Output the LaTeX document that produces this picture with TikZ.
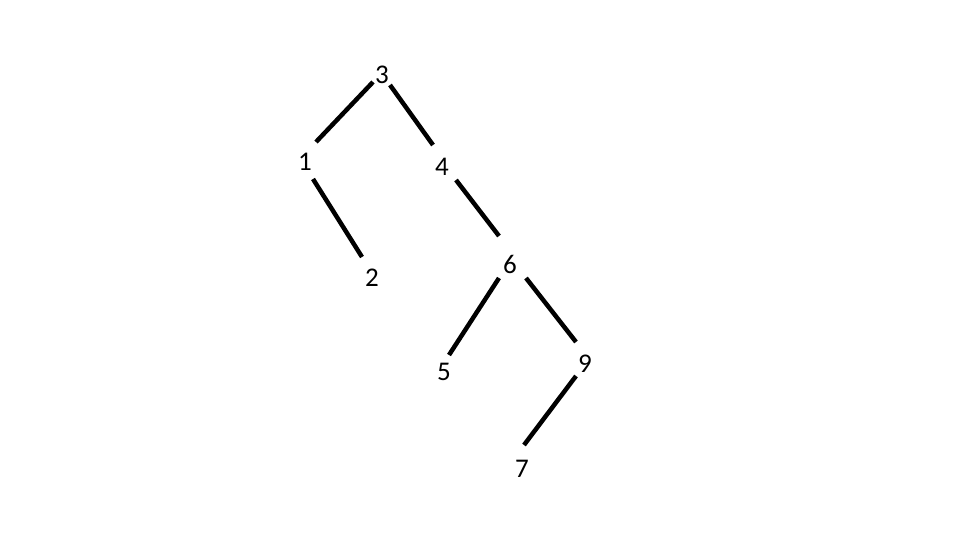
\documentclass[tikz,border=0pt]{standalone}
\usepackage{fontspec}
\setmainfont{Carlito}
\begin{document}
\begin{tikzpicture}[x=1pt,y=-1pt,
  num/.style={inner sep=0pt,font=\fontsize{27}{32}\selectfont},
  edge/.style={line width=4.5pt,black}]
\useasboundingbox (0,0) rectangle (960,540);
\fill[white] (0,0) rectangle (960,540);
\node[num] (n3) at (382,75) {3};
\node[num] (n1) at (305,162) {1};
\node[num] (n4) at (442,167) {4};
\node[num] (n2) at (372,278) {2};
\node[num] (n6) at (510,264) {6};
\node[num] (n5) at (444,372) {5};
\node[num] (n9) at (585,364) {9};
\node[num] (n7) at (522,469) {7};
\draw[edge] ([shift={(-9,7)}]n3.center) -- ([shift={(11,-20)}]n1.center);
\draw[edge] ([shift={(8,10)}]n3.center) -- ([shift={(-9,-22)}]n4.center);
\draw[edge] ([shift={(8,17)}]n1.center) -- ([shift={(-10,-21)}]n2.center);
\draw[edge] ([shift={(14,13)}]n4.center) -- ([shift={(-11,-28)}]n6.center);
\draw[edge] ([shift={(-11,14)}]n6.center) -- ([shift={(5,-17)}]n5.center);
\draw[edge] ([shift={(16,14)}]n6.center) -- ([shift={(-9,-22)}]n9.center);
\draw[edge] ([shift={(-9,12)}]n9.center) -- ([shift={(2,-24)}]n7.center);
\end{tikzpicture}
\end{document}
